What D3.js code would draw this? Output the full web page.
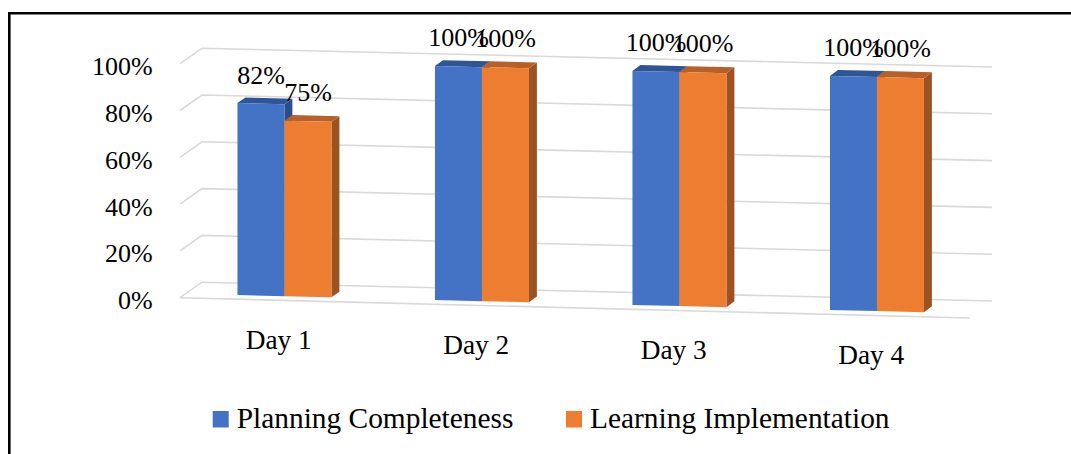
<!DOCTYPE html>
<html>
<head>
<meta charset="utf-8">
<script src="https://cdn.jsdelivr.net/npm/d3@7"></script>
<style>
  html, body { margin: 0; padding: 0; background: #fff; }
  svg { display: block; }
  text { font-family: "Liberation Serif", "Times New Roman", serif; fill: #000; }
</style>
</head>
<body>
<svg id="chart" width="1071" height="454"></svg>
<script>
// Chart data
const days = ["Day 1", "Day 2", "Day 3", "Day 4"];
const planningCompleteness = [0.82, 1.00, 1.00, 1.00];
const learningImplementation = [0.75, 1.00, 1.00, 1.00];
const seriesNames = ["Planning Completeness", "Learning Implementation"];
const yTicks = [0, 0.2, 0.4, 0.6, 0.8, 1.0];

const seriesValues = [planningCompleteness, learningImplementation];
const palette = [
  { front: "#4472C4", top: "#2F5597", side: "#2A4E8C" },
  { front: "#ED7D31", top: "#B8602A", side: "#9C5221" }
];

const svg = d3.select("#chart");

// Oblique 3D projection: u runs along the floor, v is height, w is depth (0 front, 1 back wall)
const X0 = 180, Y0 = 297.7, DX = 22, DY = -15.5, FLOOR = 790;
const slope = w => 0.0257 - 0.0019 * w;
const proj = (u, v, w) => [X0 + u + DX * w, Y0 + slope(w) * u + DY * w - v];

const x = d3.scaleBand().domain(days).range([0, FLOOR]).paddingInner(0.524).paddingOuter(0.262);
const xs = d3.scaleBand().domain(seriesNames).range([0, x.bandwidth()]);
const y = d3.scaleLinear().domain([0, 1]).range([0, 234]);
const fmt = d3.format(".0%");

// Frame
svg.append("path")
  .attr("d", "M9.3,454 V13.3 H1071")
  .attr("fill", "none").attr("stroke", "#000").attr("stroke-width", 2.6);

// Gridlines: side wall diagonal + back wall
const line = d3.line();
const grid = svg.append("g").attr("fill", "none").attr("stroke", "#d9d9d9").attr("stroke-width", 1.6);
yTicks.forEach(t => {
  grid.append("path").attr("d", line([proj(0, y(t), 0), proj(0, y(t), 1), proj(FLOOR, y(t), 1)]));
});
grid.append("path").attr("d", line([proj(0, 0, 0), proj(FLOOR, 0, 0)]));

// Y axis labels
svg.append("g").selectAll("text").data(yTicks).join("text")
  .attr("x", 152.7)
  .attr("y", t => proj(0, y(t), 0)[1] + 11.5)
  .attr("text-anchor", "end")
  .attr("font-size", 26)
  .text(fmt);

// Bars
const W0 = 0.26, W1 = 0.62;
const bars = [];
days.forEach((d, i) => {
  seriesNames.forEach((s, k) => {
    bars.push({ day: d, series: k, value: seriesValues[k][i], u0: x(d) + xs(s), u1: x(d) + xs(s) + xs.bandwidth() });
  });
});

const gBars = svg.append("g");
bars.forEach(b => {
  const v = y(b.value);
  const c = palette[b.series];
  const g = gBars.append("g");
  g.append("path").attr("fill", c.side)
    .attr("d", line([proj(b.u1, 0, W0), proj(b.u1, 0, W1), proj(b.u1, v, W1), proj(b.u1, v, W0)]) + "Z");
  g.append("path").attr("fill", c.top)
    .attr("d", line([proj(b.u0, v, W0), proj(b.u1, v, W0), proj(b.u1, v, W1), proj(b.u0, v, W1)]) + "Z");
  g.append("path").attr("fill", c.front)
    .attr("d", line([proj(b.u0, 0, W0), proj(b.u1, 0, W0), proj(b.u1, v, W0), proj(b.u0, v, W0)]) + "Z");
});

// Value labels
svg.append("g").selectAll("text").data(bars).join("text")
  .attr("x", b => proj((b.u0 + b.u1) / 2, y(b.value), W0)[0])
  .attr("y", b => proj((b.u0 + b.u1) / 2, y(b.value), W1)[1] - 14.5)
  .attr("text-anchor", "middle")
  .attr("font-size", 26)
  .text(b => fmt(b.value));

// Category labels
svg.append("g").selectAll("text").data(days).join("text")
  .attr("x", d => proj(x(d) + x.bandwidth() / 2, 0, 0)[0])
  .attr("y", d => proj(x(d) + x.bandwidth() / 2, 0, 0)[1] + 49)
  .attr("text-anchor", "middle")
  .attr("font-size", 27.3)
  .text(d => d);

// Legend
const legendX = [212.7, 566];
const legend = svg.append("g");
seriesNames.forEach((s, k) => {
  legend.append("rect")
    .attr("x", legendX[k]).attr("y", 411)
    .attr("width", 16).attr("height", 16.5)
    .attr("fill", palette[k].front);
  legend.append("text")
    .attr("x", legendX[k] + 24).attr("y", 427.7)
    .attr("font-size", 29.4)
    .text(s);
});
</script>
</body>
</html>
